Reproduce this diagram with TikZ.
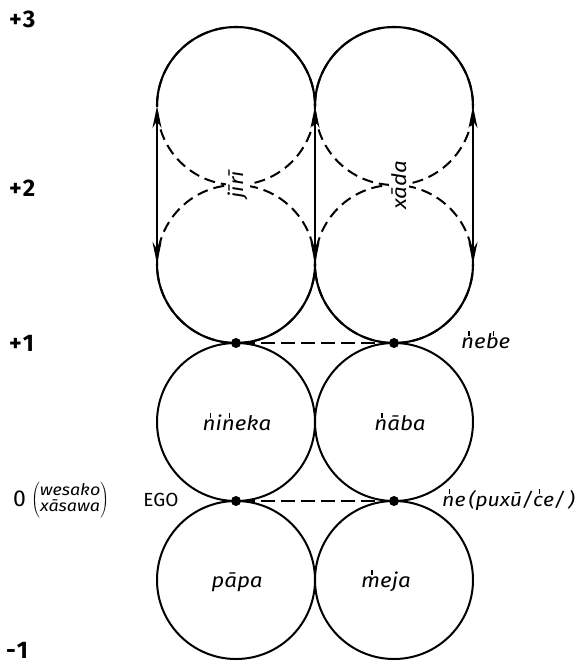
\documentclass[tikz,border=0pt]{standalone}
\usepackage{fontspec}
\setmainfont{Fira Sans}
\newfontfamily\lab[FakeStretch=1.12]{Fira Sans}
\usetikzlibrary{arrows.meta}
\newcommand\tk[1]{{\ooalign{#1\cr\hidewidth\kern0.14em\rule[1.22ex]{0.07em}{0.45ex}\hidewidth\cr}}}
\begin{document}
\begin{tikzpicture}[x=1pt,y=1pt,
  ring/.style={circle, draw, line width=2pt, minimum size=158pt, inner sep=0pt, outer sep=0pt},
  dashring/.style={circle, draw, line width=2pt, dash pattern=on 11pt off 6pt, minimum size=158pt, inner sep=0pt, outer sep=0pt},
  solidarc/.style={line width=2.1pt},
  vline/.style={line width=2.1pt, {Stealth[length=22pt,width=9pt]}-{Stealth[length=22pt,width=9pt]}},
  dashline/.style={line width=1.9pt, dash pattern=on 14pt off 6pt},
  kin/.style={font=\lab\itshape\fontsize{20}{24}\selectfont, inner sep=1pt},
  vkin/.style={kin, rotate=90, fill=white, inner sep=2pt},
  lvl/.style={font=\bfseries\fontsize{24}{26}\selectfont, anchor=west, inner sep=0pt},
  dotn/.style={circle, fill, inner sep=0pt, minimum size=10pt}]
\useasboundingbox (0,0) rectangle (584,-666);
% upper two-generation loops
\node[dashring] (u1) at (236,-106) {};
\node[dashring] (u2) at (394,-106) {};
\node[dashring] (w1) at (236,-264) {};
\node[dashring] (w2) at (394,-264) {};
\draw[solidarc] (u1.west) arc[start angle=180, end angle=0, radius=79];
\draw[solidarc] (u2.west) arc[start angle=180, end angle=0, radius=79];
\draw[solidarc] (w1.west) arc[start angle=180, end angle=360, radius=79];
\draw[solidarc] (w2.west) arc[start angle=180, end angle=360, radius=79];
\draw[vline] (w1.west) -- (u1.west);
\draw[vline] (w1.east) -- (u1.east);
\draw[vline] (w2.east) -- (u2.east);
\node[vkin] (jiri) at (238,-185) {jīrī};
\node[vkin] (xada) at (399,-185) {xāda};
% lower circles
\node[ring] (m1) at (236,-422) {};
\node[ring] (m2) at (394,-422) {};
\node[ring] (b1) at (236,-580) {};
\node[ring] (b2) at (394,-580) {};
\node[kin] (nineka) at (237,-423) {\tk{n}i\tk{n}eka};
\node[kin] (naba) at (400,-423) {\tk{n}āba};
\node[kin] (papa) at (237,-582) {pāpa};
\node[kin] (meja) at (386,-582) {\tk{m}eja};
% dots and dashed links
\node[dotn] (d1) at (236,-343) {};
\node[dotn] (d2) at (394,-343) {};
\node[dotn] (e1) at (236,-501) {};
\node[dotn] (e2) at (394,-501) {};
\draw[dashline] (d1) -- (d2);
\draw[dashline] (e1) -- (e2);
\node[kin, anchor=west] (nebe) at (460,-341) {\tk{n}e\tk{b}e};
\node[kin, anchor=west, font=\lab\itshape\fontsize{19}{24}\selectfont] (ne) at (441,-500) {\tk{n}e\kern3pt(puxū/\tk{c}e/\kern3pt)};
\node[font=\fontsize{19}{22}\selectfont, inner sep=0pt] (ego) at (161,-500) {EGO};
% generation levels
\node[lvl] (g3) at (9,-19) {+\kern1pt3};
\node[lvl] (g2) at (9,-188) {+\kern1pt2};
\node[lvl] (g1) at (9,-343) {+\kern1pt1};
\node[anchor=west, inner sep=0pt] (g0) at (13,-500) {\fontsize{23}{24}\selectfont 0\kern5pt$\left(\vcenter{\hbox{\lab\itshape\fontsize{16}{16}\selectfont\begin{tabular}{@{}c@{}}wesako\\xāsawa\end{tabular}}}\right)$};
\node[lvl] (gm1) at (6,-650) {-\kern1pt1};
\end{tikzpicture}
\end{document}
